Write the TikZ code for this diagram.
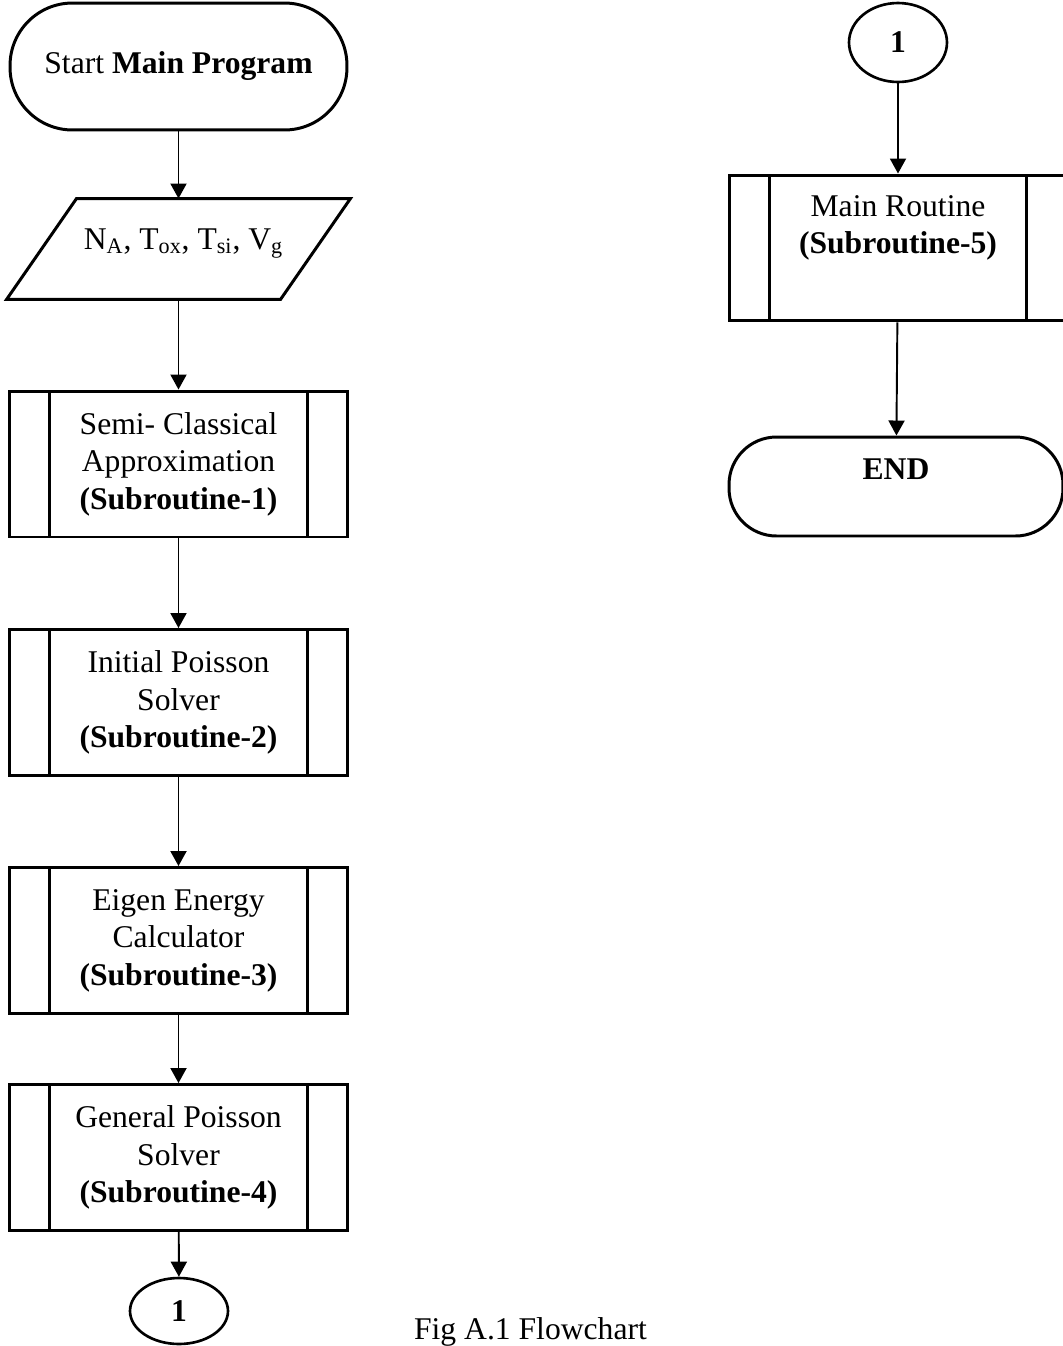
\documentclass[tikz,border=0pt]{standalone}
\usepackage{fontspec}
\setmainfont{Liberation Serif}
\usetikzlibrary{arrows.meta,shapes.geometric}
\newcommand{\flowfont}{\fontsize{18}{21.3}\selectfont}
\tikzset{>={Triangle[length=0.3cm,width=0.32cm]},
  term/.style={draw,line width=1.7pt,rounded corners=1.25cm,minimum width=6.74cm,minimum height=2.54cm,font=\flowfont},
  io/.style={line width=1.7pt,minimum width=6.82cm,minimum height=1.96cm,font=\flowfont},
  sub/.style={draw,line width=1.7pt,minimum width=6.76cm,minimum height=2.92cm,align=center,font=\flowfont,
    path picture={\draw[line width=1.7pt] ([xshift=.8cm]path picture bounding box.north west)--([xshift=.8cm]path picture bounding box.south west)
      ([xshift=-.8cm]path picture bounding box.north east)--([xshift=-.8cm]path picture bounding box.south east);}},
  conn/.style={draw,line width=1.5pt,ellipse,minimum width=1.96cm,minimum height=1.58cm,inner sep=0pt,font=\flowfont\bfseries},
  arr/.style={->,line width=1.1pt},
  figcap/.style={font=\flowfont,anchor=base}}
\begin{document}
\begin{tikzpicture}[x=0.02cm,y=-0.02cm]
\useasboundingbox (0,0) rectangle (1062,1346);
% main program column
\node[term] (start) at (178.5,66.5) {Start \textbf{Main Program}};
\node[io] (input) at (178.5,249) {\hspace*{0.2cm}\smash{N\textsubscript{A}, T\textsubscript{ox}, T\textsubscript{si}, V\textsubscript{g}}};
\draw[line width=1.7pt] ([xshift=1.4cm]input.north west) -- (input.north east) -- ([xshift=-1.4cm]input.south east) -- (input.south west) -- cycle;
\foreach \n/\y/\txt in {1/464/{Semi- Classical\\Approximation},2/702.5/{Initial Poisson\\Solver},3/940.5/{Eigen Energy\\Calculator},4/1157.5/{General Poisson\\Solver}}{
  \node[sub] (sub\n) at (178.5,\y) {\txt\\\textbf{(Subroutine-\n)}};}
\node[conn,minimum height=1.32cm] (offA) at (179,1311) {1};
\draw[arr] (start) -- (input);
\draw[arr] (input) -- (sub1);
\foreach \a/\b in {1/2,2/3,3/4}{\draw[arr] (sub\a) -- (sub\b);}
\draw[arr] (sub4) -- (offA);
% continued on the right
\node[conn] (onB) at (898,42.5) {1};
\node[sub] (sub5) at (898,248) {Main Routine\\\textbf{(Subroutine-5)}\\[0.2cm]\mbox{}};
\node[term,rounded corners=0.95cm,minimum width=6.68cm,minimum height=1.98cm] (stop) at (896,486.5) {\raisebox{0.15cm}[0pt][0pt]{\textbf{END}}};
\draw[arr] (onB) -- (sub5);
\draw[arr] (sub5) -- (stop);
\node[figcap] (cap) at (530.5,1339) {Fig A.1 Flowchart};
\end{tikzpicture}
\end{document}
